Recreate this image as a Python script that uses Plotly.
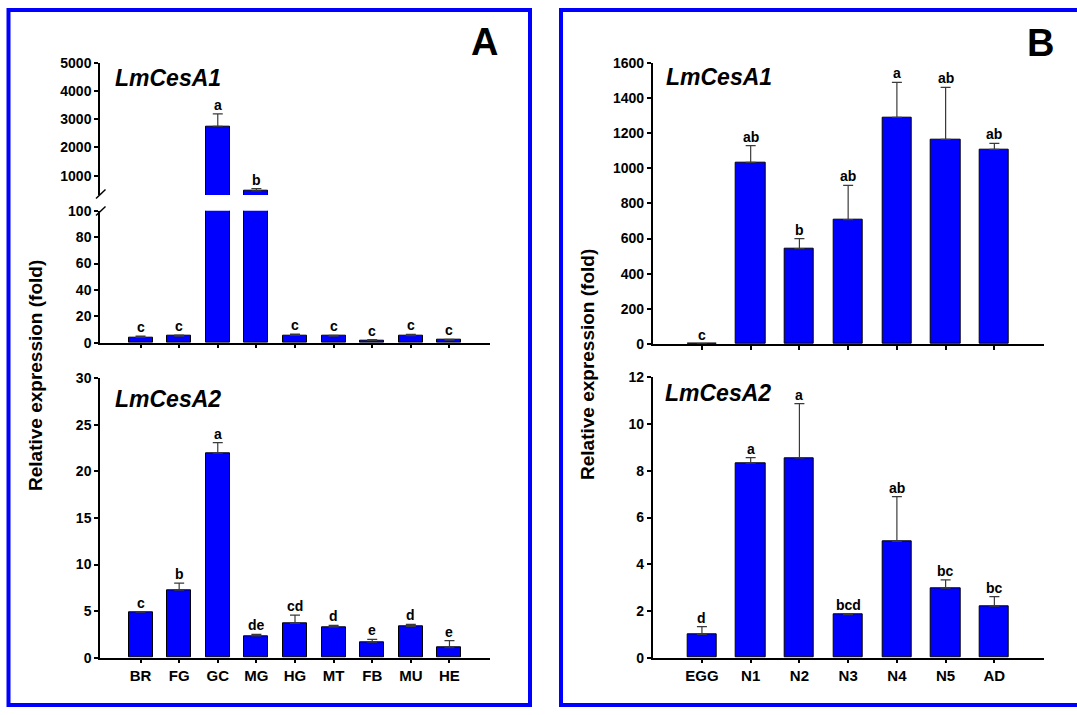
import plotly.graph_objects as go

# ---------------- data ----------------
A_tissues = ["BR", "FG", "GC", "MG", "HG", "MT", "FB", "MU", "HE"]
A1_mean = [4.0, 5.0, 2750, 460, 5.5, 5.0, 1.8, 5.3, 2.0]
A1_err = [1.0, 0.8, 440, 80, 1.0, 0.5, 0.5, 1.0, 0.5]
A1_letters = ["c", "c", "a", "b", "c", "c", "c", "c", "c"]

A2_mean = [4.9, 7.25, 21.95, 2.33, 3.69, 3.29, 1.68, 3.37, 1.07]
A2_err = [0.05, 0.75, 1.15, 0.17, 0.89, 0.18, 0.29, 0.21, 0.76]
A2_letters = ["c", "b", "a", "de", "cd", "d", "e", "d", "e"]

B_stages = ["EGG", "N1", "N2", "N3", "N4", "N5", "AD"]
B1_mean = [1.0, 1033, 542, 707, 1289, 1164, 1107]
B1_err = [0, 95, 57, 195, 199, 296, 34]
B1_letters = ["c", "ab", "b", "ab", "a", "ab", "ab"]

B2_mean = [1.0, 8.33, 8.55, 1.84, 4.98, 2.98, 2.21]
B2_err = [0.33, 0.23, 2.32, 0.03, 1.91, 0.35, 0.40]
B2_letters = ["d", "a", "a", "bcd", "ab", "bc", "bc"]

A1_upper_ticks = [1000, 2000, 3000, 4000, 5000]
A1_lower_ticks = [0, 20, 40, 60, 80, 100]

# ---------------- layout helpers ----------------
W, H = 1077, 715
# the page shows the figure 8px down and 699px tall; map window pixels to paper
TOP_OFF, SHOWN_H = 8.0, 699.0
FONT = "Liberation Sans, Arial, Helvetica, sans-serif"
BLUE = "#0000FF"


def px_x(p):
    return p / W


def px_y(p):
    return 1 - (p - TOP_OFF) / SHOWN_H


def ydom(top, bottom):
    return [px_y(bottom), px_y(top)]


def xdom(left, right):
    return [px_x(left), px_x(right)]


tickfont = dict(family=FONT, size=14, color="black", weight="bold")
catfont = dict(family=FONT, size=15, color="black", weight="bold")


def bar(x, y, err, xa, ya, width):
    return go.Bar(
        x=x, y=y, xaxis=xa, yaxis=ya, width=width,
        marker=dict(color=BLUE, line=dict(color="black", width=1)),
        error_y=dict(type="data", symmetric=False, array=err,
                     arrayminus=[0] * len(err), color="#3a3a3a",
                     thickness=1.2, width=5),
        showlegend=False, hoverinfo="x+y",
    )


fig = go.Figure()
fig.add_trace(bar(A_tissues, A1_mean, A1_err, "x", "y", 0.62))
fig.add_trace(bar(A_tissues, A1_mean, A1_err, "x2", "y2", 0.62))
fig.add_trace(bar(A_tissues, A2_mean, A2_err, "x3", "y3", 0.62))
fig.add_trace(bar(B_stages, B1_mean, B1_err, "x4", "y4", 0.6))
fig.add_trace(bar(B_stages, B2_mean, B2_err, "x5", "y5", 0.6))

xA = xdom(100, 490)
xB = xdom(652.7, 1043.6)
rA = [-1.05, 9.05]
rB = [-1.01, 7.01]


def xax(dom, rng, anchor, labels=False, visible=True):
    d = dict(domain=dom, range=rng, type="category", anchor=anchor,
             showgrid=False, zeroline=False, fixedrange=True)
    if visible:
        d.update(showline=True, linecolor="black", linewidth=1.5,
                 ticks="outside", ticklen=4, tickwidth=1.5, tickcolor="black",
                 showticklabels=labels, tickfont=catfont)
    else:
        d.update(visible=False)
    return d


def yax(dom, rng, anchor, tickvals):
    return dict(domain=dom, range=rng, anchor=anchor, showgrid=False,
                zeroline=False, showline=True, linecolor="black",
                linewidth=1.5, ticks="outside", ticklen=4, tickwidth=1.5,
                tickcolor="black", tickvals=tickvals, tickfont=tickfont,
                fixedrange=True)


fig.update_layout(
    width=W, height=H, margin=dict(l=0, r=0, t=0, b=0),
    paper_bgcolor="white", plot_bgcolor="rgba(0,0,0,0)",
    bargap=0,
    xaxis=xax(xA, rA, "y", visible=False),
    yaxis=yax(ydom(62.7, 195), [317, 5000], "x", A1_upper_ticks),
    xaxis2=xax(xA, rA, "y2"),
    yaxis2=yax(ydom(210.7, 342.7), [0, 100], "x2", A1_lower_ticks),
    xaxis3=xax(xA, rA, "y3", labels=True),
    yaxis3=yax(ydom(378.3, 657.7), [0, 30], "x3", [0, 5, 10, 15, 20, 25, 30]),
    xaxis4=xax(xB, rB, "y4"),
    yaxis4=yax(ydom(62.7, 344), [0, 1600], "x4", list(range(0, 1601, 200))),
    xaxis5=xax(xB, rB, "y5", labels=True),
    yaxis5=yax(ydom(377.3, 657.7), [0, 12], "x5", [0, 2, 4, 6, 8, 10, 12]),
)

ann = []
letfont = dict(family=FONT, size=14, color="black")


def letters(xs, means, errs, labs, xref, yref, lower_ref=None, lower_max=None):
    for c, m, e, t in zip(xs, means, errs, labs):
        xr, yr = xref, yref
        if lower_ref is not None and m + e <= lower_max:
            xr, yr = lower_ref
        ann.append(dict(x=c, y=m + e, xref=xr, yref=yr, text=f"<b>{t}</b>",
                        showarrow=False, yanchor="bottom", yshift=-1,
                        font=letfont))


letters(A_tissues, A1_mean, A1_err, A1_letters, "x", "y", ("x2", "y2"), 100)
letters(A_tissues, A2_mean, A2_err, A2_letters, "x3", "y3")
letters(B_stages, B1_mean, B1_err, B1_letters, "x4", "y4")
letters(B_stages, B2_mean, B2_err, B2_letters, "x5", "y5")

gfont = dict(family=FONT, size=23, color="black")
for txt, x, y in [("LmCesA1", 113, 78), ("LmCesA2", 113, 399),
                  ("LmCesA1", 664, 77), ("LmCesA2", 663, 392.5)]:
    ann.append(dict(x=px_x(x), y=px_y(y), xref="paper", yref="paper",
                    text=f"<b><i>{txt}</i></b>", showarrow=False,
                    xanchor="left", yanchor="middle", font=gfont))

pfont = dict(family=FONT, size=38, color="black")
for txt, x, y in [("A", 484.5, 42), ("B", 1040.5, 43)]:
    ann.append(dict(x=px_x(x), y=px_y(y), xref="paper", yref="paper",
                    text=f"<b>{txt}</b>", showarrow=False,
                    xanchor="center", yanchor="middle", font=pfont))

tfont = dict(family=FONT, size=19, color="black")
for x, y in [(35, 376), (587, 365)]:
    ann.append(dict(x=px_x(x), y=px_y(y), xref="paper", yref="paper",
                    text="<b>Relative expression (fold)</b>", textangle=-90,
                    showarrow=False, xanchor="center", yanchor="middle",
                    font=tfont))

shapes = []
# panel frames (kept inside the visible figure area)
FR_TOP, FR_BOT = 10.0, 705.0
shapes.append(dict(type="rect", xref="paper", yref="paper",
                   x0=px_x(8.5), x1=px_x(530), y0=px_y(FR_BOT), y1=px_y(FR_TOP),
                   line=dict(color=BLUE, width=4)))
shapes.append(dict(type="rect", xref="paper", yref="paper",
                   x0=px_x(561), x1=px_x(1085), y0=px_y(FR_BOT), y1=px_y(FR_TOP),
                   line=dict(color=BLUE, width=4)))
# axis break marks
for (x0, y0, x1, y1) in [(96, 198.5, 105.5, 189.5), (96, 215.5, 105.5, 206.5)]:
    shapes.append(dict(type="line", xref="paper", yref="paper",
                       x0=px_x(x0), y0=px_y(y0), x1=px_x(x1), y1=px_y(y1),
                       line=dict(color="black", width=1.5)))

fig.update_layout(annotations=ann, shapes=shapes)

fig.write_html("out.html", config=dict(displayModeBar=False),
               post_script="document.body.style.margin='0px';")
